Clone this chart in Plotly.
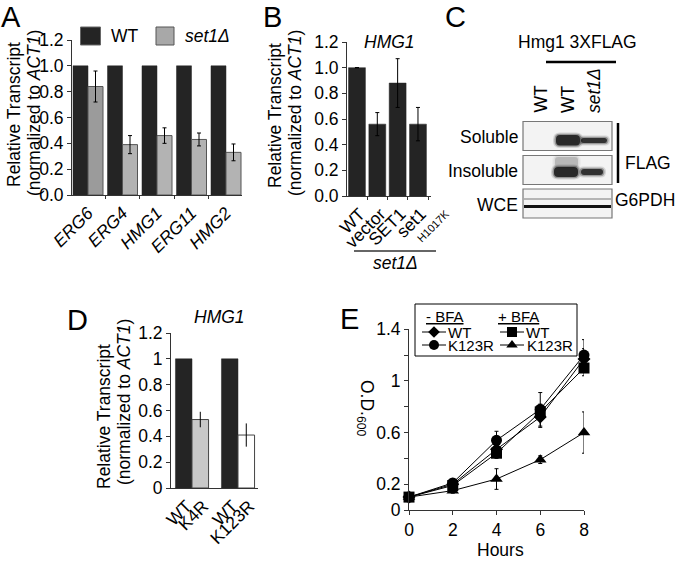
import plotly.graph_objects as go

W, H = 679, 562
FONT = "Arial, 'Liberation Sans', Helvetica, sans-serif"
FS = 17.5

# ---------------- data ----------------
# Panel A
genes_A = ["ERG6", "ERG4", "HMG1", "ERG11", "HMG2"]
wt_A = [1.0, 1.0, 1.0, 1.0, 1.0]
set1_A = [0.84, 0.39, 0.46, 0.43, 0.33]
set1_A_err = [0.12, 0.07, 0.06, 0.05, 0.065]
series_A = ["WT", "set1Δ"]

# Panel B
labels_B = ["WT", "vector", "SET1", "set1"]
label_B_sub = "H1017K"
vals_B = [1.0, 0.56, 0.88, 0.56]
err_B = [None, 0.09, 0.19, 0.13]

# Panel C (western blot lanes / rows)
lanes_C = ["WT", "WT", "<i>set1Δ</i>"]
rows_C = ["Soluble", "Insoluble", "WCE"]

# Panel D
groups_D = ["K4R", "K123R"]
wt_D = [1.0, 1.0]
mut_D = [0.53, 0.41]
mut_D_err = [0.06, 0.09]
ticklabels_D = ["WT", "K4R", "WT", "K123R"]

# Panel E
hours = [0, 2, 4, 6, 8]
od_wt_minus = [0.10, 0.20, 0.47, 0.72, 1.17]
od_wt_minus_err = [0.01, 0.02, 0.05, 0.08, 0.08]
od_k123r_minus = [0.10, 0.21, 0.54, 0.78, 1.20]
od_k123r_minus_err = [0.01, 0.02, 0.07, 0.13, 0.12]
od_wt_plus = [0.10, 0.19, 0.44, 0.76, 1.10]
od_wt_plus_err = [0.01, 0.02, 0.04, 0.06, 0.06]
od_k123r_plus = [0.10, 0.15, 0.24, 0.39, 0.60]
od_k123r_plus_err = [0.01, 0.02, 0.08, 0.03, 0.16]
ytick_E = [0, 0.2, 0.6, 1.0, 1.4]
ytick_E_text = ["0", "0.2", "0.6", "1", "1.4"]
yminor_E = [0.4, 0.8, 1.2]

# ---------------- helpers ----------------
def fx(x):
    return x / W

def fy(y):
    return 1 - y / H

annotations = []
shapes = []

def ann(text, x, y, size=FS, xanchor="center", yanchor="middle", angle=0):
    annotations.append(dict(text=text, x=fx(x), y=fy(y), xref="paper", yref="paper",
                            showarrow=False, xanchor=xanchor, yanchor=yanchor, borderpad=0,
                            textangle=angle, font=dict(family=FONT, size=size, color="black")))

def line(x0, y0, x1, y1, color="black", width=1):
    shapes.append(dict(type="line", xref="paper", yref="paper", x0=fx(x0), y0=fy(y0),
                       x1=fx(x1), y1=fy(y1), line=dict(color=color, width=width)))

def rect(x0, y0, x1, y1, fill, lc="#555", lw=1, opacity=1):
    shapes.append(dict(type="rect", xref="paper", yref="paper", x0=fx(x0), y0=fy(y0),
                       x1=fx(x1), y1=fy(y1), fillcolor=fill, opacity=opacity,
                       line=dict(color=lc, width=lw), layer="above"))

def rrect(x0, y0, x1, y1, r, fill, opacity):
    r = min(r, (x1 - x0) / 2, (y1 - y0) / 2)
    pts = [("M", x0 + r, y0), ("L", x1 - r, y0), ("Q", x1, y0, x1, y0 + r),
           ("L", x1, y1 - r), ("Q", x1, y1, x1 - r, y1), ("L", x0 + r, y1),
           ("Q", x0, y1, x0, y1 - r), ("L", x0, y0 + r), ("Q", x0, y0, x0 + r, y0)]
    s = ""
    for p in pts:
        cmd = p[0]
        coords = p[1:]
        s += cmd + " " + " ".join(f"{fx(coords[i]):.5f},{fy(coords[i+1]):.5f}" for i in range(0, len(coords), 2)) + " "
    shapes.append(dict(type="path", xref="paper", yref="paper", path=s + "Z",
                       fillcolor=fill, opacity=opacity, line=dict(width=0), layer="above"))

fig = go.Figure()

DARK = "#242424"

# ---------------- Panel A ----------------
wA = 0.435
xs_A = list(range(len(genes_A)))
fig.add_trace(go.Bar(x=xs_A, y=wt_A, width=wA, offset=-wA, name=series_A[0],
                     marker=dict(color=DARK, line=dict(color=DARK, width=0.5)),
                     xaxis="x", yaxis="y", showlegend=False))
fig.add_trace(go.Bar(x=xs_A, y=set1_A, width=wA, offset=0, name=series_A[1],
                     marker=dict(color=["#9b9b9b", "#b3b3b3", "#b3b3b3", "#b3b3b3", "#b3b3b3"],
                                 line=dict(color="#555", width=1)),
                     error_y=dict(type="data", array=set1_A_err, color="black", thickness=1, width=2),
                     xaxis="x", yaxis="y", showlegend=False))

# ---------------- Panel B ----------------
xs_B = list(range(len(labels_B)))
fig.add_trace(go.Bar(x=xs_B, y=vals_B, width=0.83,
                     marker=dict(color=DARK, line=dict(color=DARK, width=0.5)),
                     error_y=dict(type="data", array=err_B, color="black", thickness=1, width=2),
                     xaxis="x2", yaxis="y2", showlegend=False))

# ---------------- Panel D ----------------
wD = 0.36
xs_D = list(range(len(groups_D)))
fig.add_trace(go.Bar(x=xs_D, y=wt_D, width=wD, offset=-wD,
                     marker=dict(color=DARK, line=dict(color=DARK, width=0.5)),
                     xaxis="x3", yaxis="y3", showlegend=False))
fig.add_trace(go.Bar(x=xs_D, y=mut_D, width=wD, offset=0,
                     marker=dict(color=["#c8c8c8", "#ffffff"], line=dict(color="#444", width=1)),
                     error_y=dict(type="data", array=mut_D_err, color="black", thickness=1, width=0),
                     xaxis="x3", yaxis="y3", showlegend=False))
tick_D = []
for g in xs_D:
    tick_D += [g - wD / 2, g + wD / 2]

# ---------------- Panel E ----------------
series_E = [
    (od_wt_minus, od_wt_minus_err, "diamond", 10),
    (od_k123r_minus, od_k123r_minus_err, "circle", 11),
    (od_wt_plus, od_wt_plus_err, "square", 11),
    (od_k123r_plus, od_k123r_plus_err, "triangle-up", 11),
]
for ys, es, sym, sz in series_E:
    fig.add_trace(go.Scatter(x=hours, y=ys, mode="lines+markers",
                             line=dict(color="black", width=1),
                             marker=dict(symbol=sym, size=sz, color="black"),
                             error_y=dict(type="data", array=es, color="black", thickness=1, width=2),
                             cliponaxis=False, xaxis="x4", yaxis="y4", showlegend=False))

# Legend samples for E (overlay pixel axis)
leg_rows = [(332, 434, "diamond", 9), (345, 434, "circle", 10),
            (332, 512, "square", 10), (345, 512, "triangle-up", 10)]
for (ly, lx, sym, sz) in leg_rows:
    fig.add_trace(go.Scatter(x=[lx - 12, lx + 12], y=[ly, ly], mode="lines",
                             line=dict(color="black", width=1),
                             xaxis="x5", yaxis="y5", showlegend=False, hoverinfo="skip"))
    fig.add_trace(go.Scatter(x=[lx], y=[ly], mode="markers",
                             marker=dict(symbol=sym, size=sz, color="black"),
                             xaxis="x5", yaxis="y5", showlegend=False, hoverinfo="skip"))

# ---------------- axes ----------------
tickfont = dict(family=FONT, size=FS, color="black")
common_y = dict(showline=True, linecolor="#333", linewidth=1, ticks="outside", ticklen=4,
                tickcolor="#333", showgrid=False, zeroline=False, tickfont=tickfont,
                automargin=False)
common_x = dict(showline=True, linecolor="#333", linewidth=1, showgrid=False, zeroline=False,
                tickfont=tickfont, tickangle=-45, ticks="", automargin=False)

layout = dict(
    template="none",
    width=W, height=H, margin=dict(l=0, r=0, t=0, b=0, pad=0, autoexpand=False),
    paper_bgcolor="white", plot_bgcolor="rgba(0,0,0,0)",
    barmode="overlay", hovermode=False, showlegend=False,
    font=dict(family=FONT, size=FS, color="black"),
    xaxis=dict(domain=[fx(72), fx(242)], range=[-0.464, 4.464], anchor="y",
               tickvals=xs_A, ticktext=[f"<i>{g}</i>" for g in genes_A],
               minor=dict(ticks="outside", tick0=0.5, dtick=1, ticklen=3, tickcolor="#333"),
               **common_x),
    yaxis=dict(domain=[fy(195), fy(40)], range=[0, 1.2], dtick=0.2, tickformat=".1f",
               anchor="x", **common_y),
    xaxis2=dict(domain=[fx(347), fx(431)], range=[-0.49, 3.64], anchor="y2",
                tickvals=xs_B, ticktext=labels_B, ticklabelshift=3,
                minor=dict(ticks="outside", tick0=0.5, dtick=1, ticklen=3, tickcolor="#333"),
                **common_x),
    yaxis2=dict(domain=[fy(196), fy(42)], range=[0, 1.2], dtick=0.2, tickformat=".1f",
                anchor="x2", **common_y),
    xaxis3=dict(domain=[fx(171), fx(258)], range=[-0.457, 1.435], anchor="y3",
                tickvals=tick_D, ticktext=ticklabels_D, ticklabelshift=3, **common_x),
    yaxis3=dict(domain=[fy(488), fy(333)], range=[0, 1.2], dtick=0.2,
                anchor="x3", **common_y),
    xaxis4=dict(domain=[fx(409), fx(584)], range=[0, 8], anchor="y4",
                tickvals=hours, showline=True, linecolor="#333", ticks="outside", ticklen=4,
                tickcolor="#333", showgrid=False, zeroline=False, tickfont=tickfont,
                automargin=False),
    yaxis4=dict(domain=[fy(510), fy(329.3)], range=[0, 1.4],
                tickvals=ytick_E, ticktext=ytick_E_text,
                minor=dict(tickvals=yminor_E, ticks="outside", ticklen=4, tickcolor="#333"),
                anchor="x4", **common_y),
    xaxis5=dict(domain=[0, 1], range=[0, W], visible=False, fixedrange=True, anchor="y5",
                automargin=False),
    yaxis5=dict(domain=[0, 1], range=[H, 0], visible=False, fixedrange=True, anchor="x5",
                automargin=False),
)

# ---------------- annotations & shapes ----------------
# Panel letters
for letter, x, y in [("A", 0, 17), ("B", 262, 17), ("C", 444, 17), ("D", 66, 320), ("E", 339, 319)]:
    ann(letter, x, y, size=29, xanchor="left")

# Panel A y-title and legend
ann("Relative Transcript", 14, 115, angle=-90)
ann("(normalized to <i>ACT1</i>)", 34, 113, angle=-90)
rect(80.5, 27, 100.5, 45, DARK, lc="#666")
ann(series_A[0], 110, 36, xanchor="left")
rect(156, 27, 174, 45, "#a8a8a8", lc="#555")
ann(f"<i>{series_A[1]}</i>", 184, 36, xanchor="left")

# Panel B
ann("Relative Transcript", 275, 116, angle=-90)
ann("(normalized to <i>ACT1</i>)", 295, 113, angle=-90)
ann("<i>HMG1</i>", 390, 42)
ann(label_B_sub, 433, 226, size=11, angle=-45)
line(354, 251, 436, 251, color="#666", width=2)
ann("<i>set1Δ</i>", 395, 263)

# Panel C
ann("Hmg1 3XFLAG", 577, 42)
line(546, 62, 616, 62, color="black", width=2.5)
for lab, lx in zip(lanes_C, [540.5, 568, 593.5]):
    ann(lab, lx, 114, angle=-90, yanchor="bottom")
boxes = [(523, 121.5, 612, 150.5), (523, 155.5, 612, 184.5), (523, 189, 612, 218)]
for (x0, y0, x1, y1), lab in zip(boxes, rows_C):
    rect(x0, y0, x1, y1, "#f3f3f3", lc="#777", lw=1.2)
    ann(lab, 519, (y0 + y1) / 2 + 1, xanchor="right")
bands = [
    (556, 135, 580, 145.5, 0.9, 4),
    (581, 138, 607, 143, 0.85, 2.5),
    (555, 157, 578, 167, 0.2, 3),
    (554, 167, 578, 177, 0.9, 4),
    (581, 169, 603, 175, 0.85, 3),
]
for x0, y0, x1, y1, op, r in bands:
    rrect(x0 - 3, y0 - 2.5, x1 + 3, y1 + 2.5, r + 3, "#444", op * 0.2)
    rrect(x0 - 1.5, y0 - 1.2, x1 + 1.5, y1 + 1.2, r + 1.5, "#222", op * 0.4)
    rrect(x0, y0, x1, y1, r, "#000", op * 0.8)
line(524, 199, 611, 199, color="#a0a0a0", width=1.5)
line(524, 206.5, 611, 206.5, color="#111", width=3)
line(618, 123, 618, 183, color="black", width=2.5)
ann("FLAG", 624, 163, xanchor="left")
ann("G6PDH", 614, 200, xanchor="left")

# Panel D
ann("Relative Transcript", 104, 417, angle=-90)
ann("(normalized to <i>ACT1</i>)", 124, 402, angle=-90)
ann("<i>HMG1</i>", 219, 317)

# Panel E
ann("O.D.<sub>600</sub>", 366, 408, angle=90)
ann("Hours", 500, 550)
rect(415, 304, 577, 356, "rgba(0,0,0,0)", lc="black", lw=1)
ann("<u>- BFA</u>", 445, 316, size=15)
ann("<u>+ BFA</u>", 518, 316, size=15)
ann("WT", 447, 332, size=15, xanchor="left")
ann("K123R", 447, 345.5, size=15, xanchor="left")
ann("WT", 525, 332, size=15, xanchor="left")
ann("K123R", 526, 345.5, size=15, xanchor="left")

layout["annotations"] = annotations
layout["shapes"] = shapes
fig.update_layout(**layout)

fig.write_html("out.html", config={"displayModeBar": False},
               post_script="document.body.style.margin='0px';")
